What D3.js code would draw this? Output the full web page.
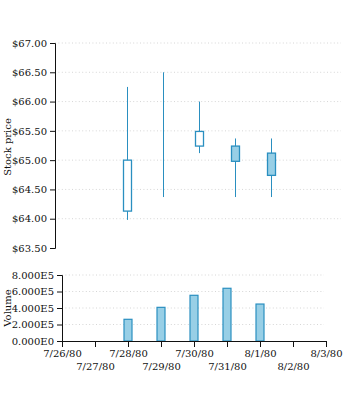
<!DOCTYPE html>
<html><head><meta charset="utf-8">
<script src="https://cdn.jsdelivr.net/npm/d3@7"></script>
<style>
body{margin:0;background:#fff;}
svg{display:block;font-family:"DejaVu Serif",serif;}
svg text, .tick text{font-family:"DejaVu Serif",serif;font-size:10px;fill:#111;}
</style></head>
<body><svg id="c" width="360" height="400"></svg>
<script>
const dates = ["1980-07-28","1980-07-29","1980-07-30","1980-07-31","1980-08-01"];
const openV  = [64.13, 65.50, 65.24, 65.24, 65.12];
const highV  = [66.25, 66.50, 66.00, 65.37, 65.37];
const lowV   = [63.98, 64.37, 65.12, 64.37, 64.37];
const closeV = [65.00, 65.50, 65.49, 64.98, 64.74];
const volumeV = [263000, 408000, 554000, 639000, 448000];
const priceTicks = [63.5, 64, 64.5, 65, 65.5, 66, 66.5, 67];
const volTicks = [0, 200000, 400000, 600000, 800000];
const domainDates = ["1980-07-26","1980-08-03"];

const parse = d3.timeParse("%Y-%m-%d");
const data = dates.map((d,i)=>({date:parse(d),o:openV[i],h:highV[i],l:lowV[i],c:closeV[i],v:volumeV[i]}));
const dStart = parse(domainDates[0]), dEnd = parse(domainDates[1]);

const svg = d3.select("#c");
const stroke = "#2a8fc0", fillDown = "#98cfe6";
const FONT = "DejaVu Serif";

// ---- price panel
const xP = d3.scaleTime().domain([dStart,dEnd]).range([55,343]);
const yP = d3.scaleLinear().domain([63.5,67]).range([248,43]);

svg.append("g").selectAll("line").data(priceTicks.slice(1)).join("line")
  .attr("x1",55).attr("x2",341).attr("y1",d=>yP(d)).attr("y2",d=>yP(d))
  .attr("stroke","#d6d6d6").attr("stroke-dasharray","1,2.4");

const gyP = svg.append("g").attr("transform","translate(55,0)")
  .call(d3.axisLeft(yP).tickValues(priceTicks).tickFormat(d=>"$"+d.toFixed(2)).tickSize(5))
  .attr("font-family",FONT);
gyP.select(".domain").attr("stroke","#111");
gyP.selectAll(".tick line").attr("stroke","#111");

svg.append("text").attr("transform","rotate(-90)").attr("x",-147).attr("y",11)
  .attr("text-anchor","middle").text("Stock price");

const candles = svg.append("g").selectAll("g").data(data).join("g");
candles.append("line")
  .attr("x1",d=>xP(d.date)+0.5).attr("x2",d=>xP(d.date)+0.5)
  .attr("y1",d=>yP(d.h)).attr("y2",d=>yP(d.l))
  .attr("stroke",stroke).attr("stroke-width",1);
candles.append("rect")
  .attr("x",d=>xP(d.date)-3.5).attr("width",8)
  .attr("y",d=>yP(Math.max(d.o,d.c)))
  .attr("height",d=>Math.abs(yP(d.o)-yP(d.c)))
  .attr("fill",d=>d.c>=d.o?"#fff":fillDown)
  .attr("stroke",stroke).attr("stroke-width",1.3);

// ---- volume panel
const xV = d3.scaleTime().domain([dStart,dEnd]).range([62,326]);
const yV = d3.scaleLinear().domain([0,800000]).range([341,275]);

svg.append("g").selectAll("line").data(volTicks.slice(1)).join("line")
  .attr("x1",62).attr("x2",324).attr("y1",d=>yV(d)).attr("y2",d=>yV(d))
  .attr("stroke","#d6d6d6").attr("stroke-dasharray","1,2.4");

svg.append("g").selectAll("rect").data(data).join("rect")
  .attr("x",d=>xV(d.date)-4).attr("width",8)
  .attr("y",d=>yV(d.v)).attr("height",d=>yV(0)-yV(d.v))
  .attr("fill",fillDown).attr("stroke",stroke).attr("stroke-width",1.2);

const gyV = svg.append("g").attr("transform","translate(62,0)")
  .call(d3.axisLeft(yV).tickValues(volTicks).tickSize(5)
    .tickFormat(d=>d.toExponential(3).replace("e+","E")))
  .attr("font-family",FONT);
gyV.select(".domain").attr("stroke","#111");
gyV.selectAll(".tick line").attr("stroke","#111");

svg.append("text").attr("transform","rotate(-90)").attr("x",-308).attr("y",11)
  .attr("text-anchor","middle").text("Volume");

const dayTicks = d3.timeDay.range(dStart, d3.timeDay.offset(dEnd,1));
const gx = svg.append("g").attr("transform","translate(0,341)")
  .call(d3.axisBottom(xV).tickValues(dayTicks).tickFormat(d3.timeFormat("%-m/%-d/%y")).tickSize(6).tickSizeOuter(0))
  .attr("font-family",FONT);
gx.select(".domain").attr("stroke","#111");
gx.selectAll(".tick line").attr("stroke","#111");
gx.selectAll(".tick text").attr("y",(d,i)=> i%2===0 ? 9 : 21.5);
</script></body></html>
